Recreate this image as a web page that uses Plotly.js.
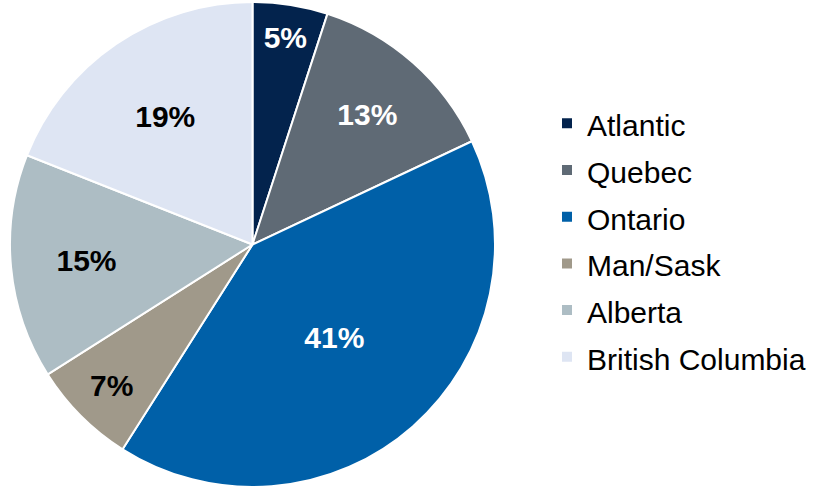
<!DOCTYPE html>
<html><head><meta charset="utf-8">
<script src="https://cdn.plot.ly/plotly-3.0.1.min.js"></script>
<style>html,body{margin:0;padding:0;background:#fff}#chart{width:818px;height:487px}</style>
</head><body><div id="chart"></div>
<script>
const regions = ["Atlantic","Quebec","Ontario","Man/Sask","Alberta","British Columbia"];
const shares = [5,13,41,7,15,19];
const colors = ["#03234d","#5f6a75","#0060a8","#a0998a","#adbdc4","#dee5f3"];
const textColors = ["#ffffff","#ffffff","#ffffff","#000000","#000000","#000000"];

const W = 818, H = 487;
// legend rows are spaced by a larger legend font; the visible label text is set at 30px
const legendLabels = regions.map(r => '<span style="font-size:30px">' + r + '</span>');
const trace = {
  type: "pie",
  labels: legendLabels,
  values: shares,
  sort: false,
  direction: "clockwise",
  rotation: 0,
  marker: {colors: colors, line: {color: "#ffffff", width: 2}},
  text: shares.map(v => v + "%"),
  textinfo: "text",
  textposition: "inside",
  insidetextorientation: "horizontal",
  insidetextfont: {family: "Liberation Sans, Arial, sans-serif", size: 30, color: textColors, weight: "bold"},
  hoverinfo: "label+percent",
  domain: {x: [10/W, 495/W], y: [0, 485/H]}
};
const layout = {
  width: W, height: H,
  margin: {l: 0, r: 0, t: 0, b: 0},
  paper_bgcolor: "#ffffff",
  showlegend: true,
  legend: {x: 547/W, y: 0.5 + 3/H, xanchor: "left", yanchor: "middle",
           font: {family: "Liberation Sans, Arial, sans-serif", size: 33.6, color: "#000000"},
           itemwidth: 30, traceorder: "normal"},
  uniformtext: {mode: "show", minsize: 30}
};
Plotly.newPlot("chart", [trace], layout, {displayModeBar: false, staticPlot: true});
</script></body></html>
